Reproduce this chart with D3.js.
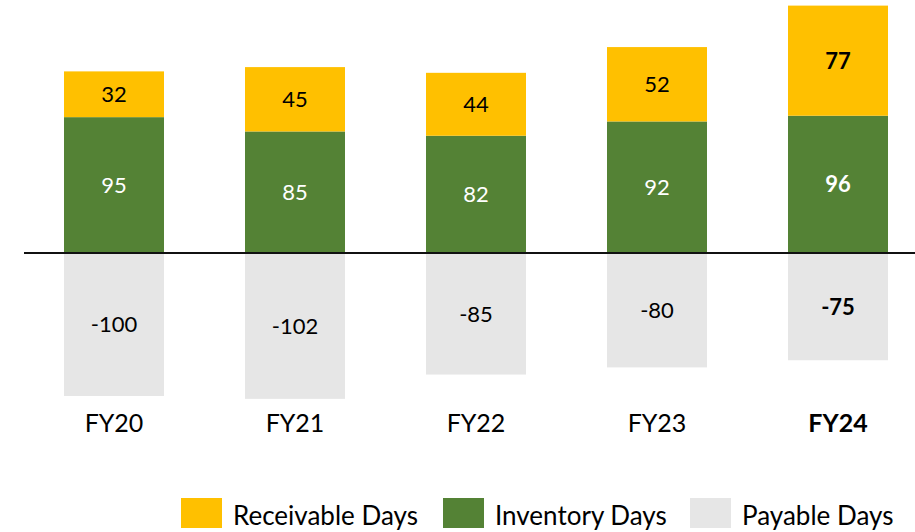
<!DOCTYPE html>
<html>
<head>
<meta charset="utf-8">
<script src="https://cdn.jsdelivr.net/npm/d3@7"></script>
<style>
  html, body { margin: 0; padding: 0; background: #fff; }
  svg { display: block; font-family: Lato, "Open Sans", sans-serif; }
</style>
</head>
<body>
<div id="chart"></div>
<script>
// working capital days by fiscal year
const years = ["FY20", "FY21", "FY22", "FY23", "FY24"];
const receivableDays = [32, 45, 44, 52, 77];
const inventoryDays = [95, 85, 82, 92, 96];
const payableDays = [-100, -102, -85, -80, -75];
const legendLabels = ["Receivable Days", "Inventory Days", "Payable Days"];

const width = 915;
const height = 532;
const colors = { rec: "#FFC000", inv: "#548235", pay: "#E6E6E6" };
const highlight = "FY24";

const svg = d3.select("#chart").append("svg")
  .attr("width", width)
  .attr("height", height);

const x = d3.scaleBand()
  .domain(years)
  .range([23.5, 928.5])
  .paddingInner(0.4475)
  .paddingOuter(0.22375);

// 1.43 px per day, zero line at y=253
const y = d3.scaleLinear()
  .domain([0, 100])
  .range([253, 110]);

const rows = years.map((yr, i) => ({
  year: yr,
  rec: receivableDays[i],
  inv: inventoryDays[i],
  pay: payableDays[i]
}));

const segs = [];
rows.forEach(d => {
  segs.push({ year: d.year, key: "pay", v: d.pay, y0: d.pay, y1: 0, color: "#000" });
  segs.push({ year: d.year, key: "inv", v: d.inv, y0: 0, y1: d.inv, color: "#fff" });
  segs.push({ year: d.year, key: "rec", v: d.rec, y0: d.inv, y1: d.inv + d.rec, color: "#000" });
});

svg.append("g").selectAll("rect")
  .data(segs)
  .join("rect")
  .attr("x", d => x(d.year))
  .attr("width", x.bandwidth())
  .attr("y", d => y(Math.max(d.y0, d.y1)))
  .attr("height", d => Math.abs(y(d.y0) - y(d.y1)))
  .attr("fill", d => colors[d.key]);

svg.append("g").selectAll("text")
  .data(segs)
  .join("text")
  .attr("x", d => x(d.year) + x.bandwidth() / 2)
  .attr("y", d => (y(d.y0) + y(d.y1)) / 2)
  .attr("dy", "0.36em")
  .attr("text-anchor", "middle")
  .attr("font-size", 22)
  .attr("font-weight", d => d.year === highlight ? "bold" : "normal")
  .attr("fill", d => d.color)
  .text(d => d.v);

// zero line
svg.append("line")
  .attr("x1", 24)
  .attr("x2", width)
  .attr("y1", y(0))
  .attr("y2", y(0))
  .attr("stroke", "#111")
  .attr("stroke-width", 2);

// category labels
svg.append("g").selectAll("text")
  .data(years)
  .join("text")
  .attr("x", d => x(d) + x.bandwidth() / 2)
  .attr("y", 432)
  .attr("text-anchor", "middle")
  .attr("font-size", 25)
  .attr("font-weight", d => d === highlight ? "bold" : "normal")
  .attr("fill", "#000")
  .text(d => d);

// legend
const legendX = [181, 443, 690];
const legendColors = [colors.rec, colors.inv, colors.pay];
const legend = svg.append("g").selectAll("g")
  .data(legendLabels)
  .join("g")
  .attr("transform", (d, i) => `translate(${legendX[i]},498)`);

legend.append("rect")
  .attr("width", 41)
  .attr("height", 30)
  .attr("fill", (d, i) => legendColors[i]);

legend.append("text")
  .attr("x", 52)
  .attr("y", 27)
  .attr("font-size", 26)
  .attr("fill", "#000")
  .text(d => d);
</script>
</body>
</html>
